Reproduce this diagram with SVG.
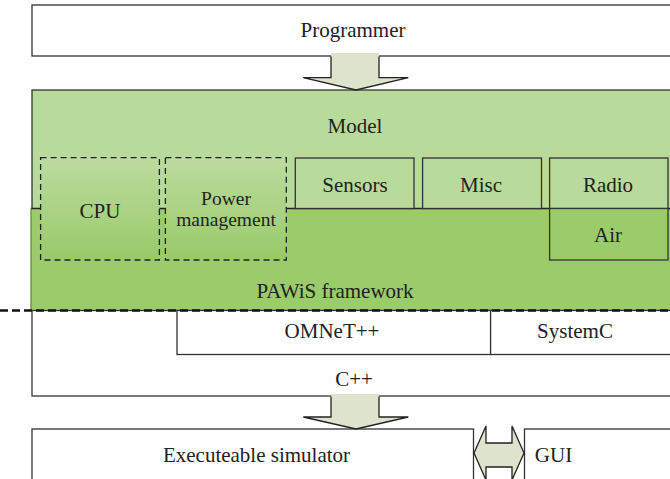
<svg xmlns="http://www.w3.org/2000/svg" width="670" height="479" viewBox="0 0 670 479">
<defs>
<linearGradient id="gr" x1="0" y1="0" x2="0" y2="1">
<stop offset="0" stop-color="#bcdc9f"/>
<stop offset="1" stop-color="#98ca68"/>
</linearGradient>
</defs>
<style>
.b{fill:#fff;stroke:#333;stroke-width:1.3}
.lg{fill:#b8da9a;stroke:#333;stroke-width:1.3}
.dg{fill:#9acc6a;stroke:#333;stroke-width:1.3}
.dash{fill:url(#gr);stroke:#222;stroke-width:1.3;stroke-dasharray:6,4}
.ar{fill:#dde3cc;stroke:#222;stroke-width:1.3}
text{font-family:"Liberation Serif","DejaVu Serif",serif;font-size:21px;fill:#222;text-anchor:middle}
.sm{font-size:19.5px}
</style>
<rect width="670" height="479" fill="#fff"/>
<g id="programmer"><rect class="b" x="32" y="5" width="660" height="51"/><text x="353" y="37">Programmer</text></g>
<g id="model"><rect class="lg" x="32" y="90" width="660" height="220"/><text x="355" y="133">Model</text></g>
<g id="pawis">
<rect x="31" y="208.5" width="660" height="102" fill="#9acc6a"/>
<line x1="31" y1="208.5" x2="670" y2="208.5" stroke="#222" stroke-width="1.5"/>
<line x1="31" y1="208.5" x2="31" y2="310" stroke="#5f8f3c" stroke-width="1.3"/>
<text x="335" y="298">PAWiS framework</text>
</g>
<g id="cpp"><rect class="b" x="32" y="310.5" width="660" height="85.5"/><text x="354" y="386">C++</text></g>
<g id="omnet"><rect class="b" x="177" y="310.5" width="313.6" height="44"/><text x="332" y="338">OMNeT++</text></g>
<g id="systemc"><rect class="b" x="490.6" y="310.5" width="200" height="44"/><text x="575" y="338">SystemC</text></g>
<g id="cpu"><rect class="dash" x="40.6" y="157.7" width="118.8" height="102.3"/><text x="100" y="218">CPU</text></g>
<g id="power"><rect class="dash" x="165.4" y="157.7" width="120.9" height="102.3"/><text class="sm" x="226" y="205">Power</text><text class="sm" x="226" y="226">management</text></g>
<g id="sensors"><rect class="lg" x="295.3" y="158" width="118.7" height="50.5"/><text x="355" y="191.5">Sensors</text></g>
<g id="misc"><rect class="lg" x="422.6" y="158" width="118.9" height="50.5"/><text x="481" y="191.5">Misc</text></g>
<g id="radio"><rect class="lg" x="549.6" y="158" width="118.4" height="50.5"/><text x="608" y="191.5">Radio</text></g>
<g id="air"><rect class="dg" x="549.6" y="208.5" width="118.4" height="51.5"/><text x="608" y="241.5">Air</text></g>
<g id="sim"><rect class="b" x="32" y="429" width="441.5" height="60"/><text x="256.5" y="462">Executeable simulator</text></g>
<g id="gui"><rect class="b" x="524.5" y="429" width="160" height="60"/><text x="553.5" y="462">GUI</text></g>
<g id="connectors">
<line x1="0" y1="310.5" x2="670" y2="310.5" stroke="#111" stroke-width="2.5" stroke-dasharray="8,4"/>
<path d="M331,53 V77.7 H303.3 L356,90 L408.3,77.7 H379 V53 Z" fill="#dde3cc"/>
<path class="ar" style="fill:none" d="M331,56.5 V77.7 H303.3 L356,90 L408.3,77.7 H379 V56.5"/>
<path d="M331,394 V417 H303.3 L356,429 L408.3,417 H379 V394 Z" fill="#dde3cc"/>
<path class="ar" style="fill:none" d="M331,396.5 V417 H303.3 L356,429 L408.3,417 H379 V396.5"/>
<polygon class="ar" points="474,453 486,426 486,443 512,443 512,426 524,453 512,480 512,467 486,467 486,480"/>
</g>
</svg>
